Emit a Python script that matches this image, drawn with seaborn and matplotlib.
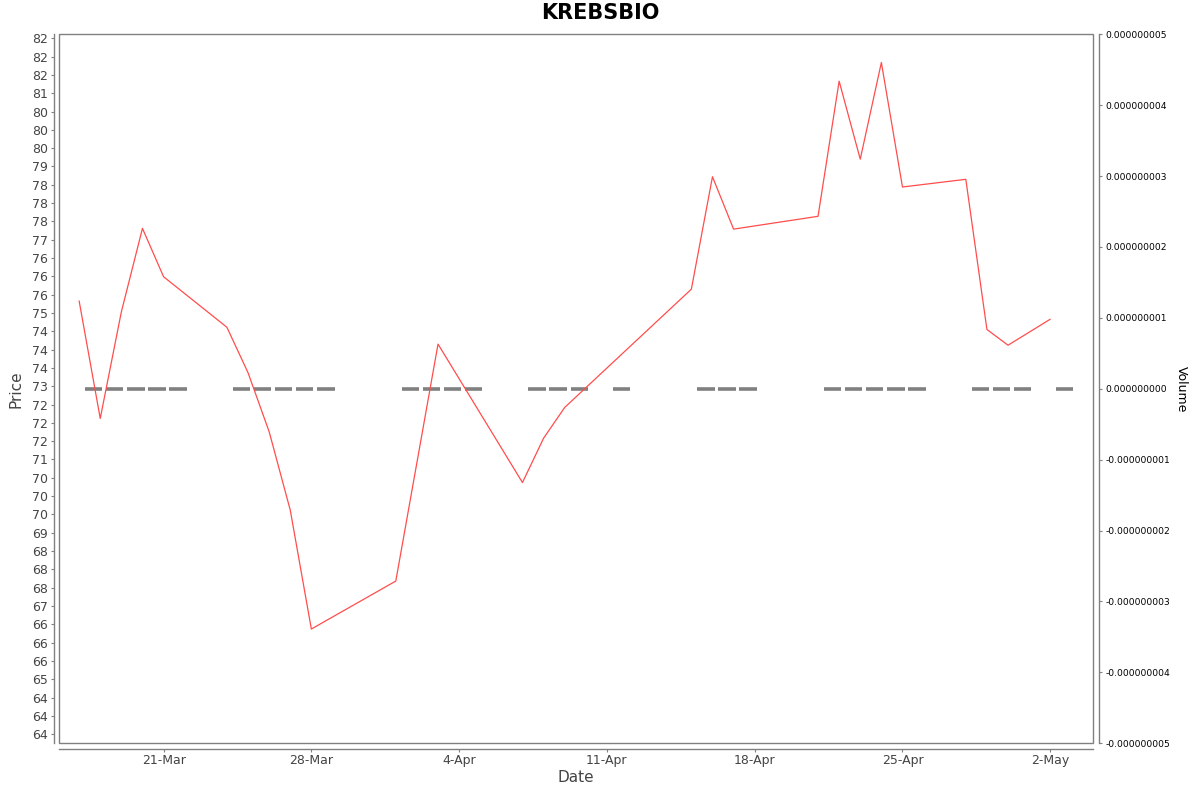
import pandas as pd
import seaborn as sns
import matplotlib
matplotlib.use('Agg')
import matplotlib.pyplot as plt
import matplotlib.dates as mdates
from matplotlib.ticker import FixedLocator, FuncFormatter
from matplotlib.patches import Rectangle

# price series (only the days where the line has a vertex)
price_dates = ['2025-03-17', '2025-03-18', '2025-03-19', '2025-03-20', '2025-03-21',
               '2025-03-24', '2025-03-25', '2025-03-26', '2025-03-27', '2025-03-28',
               '2025-04-01', '2025-04-03', '2025-04-07', '2025-04-08', '2025-04-09',
               '2025-04-15', '2025-04-16', '2025-04-17', '2025-04-21', '2025-04-22',
               '2025-04-23', '2025-04-24', '2025-04-25', '2025-04-28', '2025-04-29',
               '2025-04-30', '2025-05-02']
prices = [75.33, 72.12, 75.03, 77.31, 75.99,
          74.61, 73.37, 71.76, 69.62, 66.37,
          67.68, 74.15, 70.37, 71.58, 72.42,
          75.65, 78.72, 77.29, 77.64, 81.33,
          79.20, 81.84, 78.44, 78.65, 74.55,
          74.12, 74.83]

# volume series (all zero)
volume_dates = ['2025-03-17', '2025-03-18', '2025-03-19', '2025-03-20', '2025-03-21',
                '2025-03-24', '2025-03-25', '2025-03-26', '2025-03-27', '2025-03-28',
                '2025-04-01', '2025-04-02', '2025-04-03', '2025-04-04',
                '2025-04-07', '2025-04-08', '2025-04-09', '2025-04-11',
                '2025-04-15', '2025-04-16', '2025-04-17',
                '2025-04-21', '2025-04-22', '2025-04-23', '2025-04-24', '2025-04-25',
                '2025-04-28', '2025-04-29', '2025-04-30', '2025-05-02']
volumes = [0, 0, 0, 0, 0,
           0, 0, 0, 0, 0,
           0, 0, 0, 0,
           0, 0, 0, 0,
           0, 0, 0,
           0, 0, 0, 0, 0,
           0, 0, 0, 0]

price_ticks = [63.5 + 0.5 * i for i in range(39)]
volume_ticks = [-5e-9, -4e-9, -3e-9, -2e-9, -1e-9, 0, 1e-9, 2e-9, 3e-9, 4e-9, 5e-9]

df = pd.DataFrame({'Date': pd.to_datetime(price_dates), 'Price': prices})
vol = pd.DataFrame({'Date': pd.to_datetime(volume_dates), 'Volume': volumes})

sns.set_style('white')
plt.rcParams['font.family'] = ['DejaVu Sans']

grey = '#808080'
txt = '#444444'

fig = plt.figure(figsize=(12, 7.92), dpi=100)
ax = fig.add_axes([0.0494, 0.0615, 0.8617, 0.8952])
ax2 = ax.twinx()
ax.set_zorder(2)
ax.patch.set_visible(False)

# volume bars (zero height, drawn as thick grey dashes)
ax2.bar(vol['Date'] + pd.Timedelta(hours=16.5), vol['Volume'], width=0.82,
        color=grey, edgecolor=grey, linewidth=2.6, joinstyle='miter')

# price line
sns.lineplot(data=df, x='Date', y='Price', ax=ax, color='#ff4d4d', linewidth=0.9)

# x axis
ax.set_xlim(pd.Timestamp('2025-03-21') - pd.Timedelta(days=4.94),
            pd.Timestamp('2025-03-21') + pd.Timedelta(days=44.04))
ax.xaxis.set_major_locator(mdates.WeekdayLocator(byweekday=mdates.FR))
ax.xaxis.set_major_formatter(mdates.DateFormatter('%-d-%b'))
ax.set_xlabel('Date', fontsize=11, color=txt, labelpad=2)

# left price axis
ax.set_ylim(63.25, 82.61)
ax.yaxis.set_major_locator(FixedLocator(price_ticks))
ax.yaxis.set_major_formatter(FuncFormatter(lambda v, p: str(round(v))))
ax.set_ylabel('Price', fontsize=11, color=txt, labelpad=6)

# right volume axis
ax2.set_ylim(-5e-9, 5e-9)
ax2.yaxis.set_major_locator(FixedLocator(volume_ticks))
ax2.yaxis.set_major_formatter(FuncFormatter(lambda v, p: f'{v:.9f}'))
ax2.set_ylabel('Volume', fontsize=9, color='black', rotation=-90, va='bottom', labelpad=3)
ax2.xaxis.set_visible(False)

for s in ['top', 'right']:
    ax.spines[s].set_visible(False)
for s in ['left', 'bottom']:
    ax.spines[s].set_position(('outward', 4))
    ax.spines[s].set_color(grey)
    ax.spines[s].set_linewidth(1)
for s in ['top', 'left', 'bottom']:
    ax2.spines[s].set_visible(False)
ax2.spines['right'].set_position(('outward', 4))
ax2.spines['right'].set_color(grey)
ax2.spines['right'].set_linewidth(1)

ax.tick_params(axis='both', left=True, bottom=True, length=2, width=0.8,
               color=grey, labelcolor=txt, labelsize=9, pad=2)
ax2.tick_params(axis='y', right=True, length=2, width=0.8, color=grey,
                labelcolor='black', labelsize=6.6, pad=3)

# plot frame
ax.add_patch(Rectangle((0, 0), 1, 1, transform=ax.transAxes, fill=False,
                       edgecolor=grey, linewidth=1, clip_on=False))

fig.text(0.5, 0.984, 'KREBSBIO', ha='center', va='center',
         fontsize=15, fontweight='bold', color='black')

fig.savefig('out.png', dpi=100)
